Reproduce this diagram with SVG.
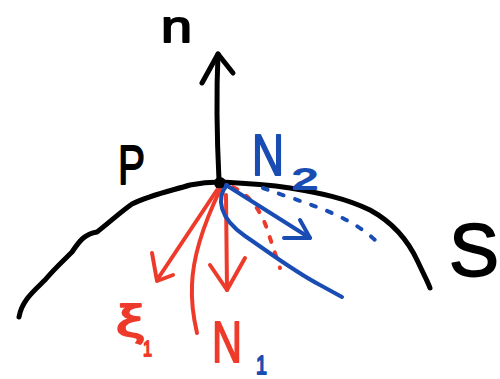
<svg xmlns="http://www.w3.org/2000/svg" width="500" height="379" viewBox="0 0 500 379">
<style>
.k{fill:none;stroke:#000;stroke-width:5;stroke-linecap:round;stroke-linejoin:round}
.r{fill:none;stroke:#ee3a2a;stroke-width:4;stroke-linecap:round;stroke-linejoin:round}
.b{fill:none;stroke:#1a4db3;stroke-width:4;stroke-linecap:round;stroke-linejoin:round}
text{font-family:"Liberation Sans",Arial,sans-serif;stroke-width:1.8;stroke-linejoin:round}
.tk{fill:#000;stroke:#000}.tr{fill:#ee3a2a;stroke:#ee3a2a}.tb{fill:#1a4db3;stroke:#1a4db3}
</style>
<rect width="500" height="379" fill="#fff"/>
<g id="surface-S">
<path class="k" d="M19,317 C22,300 35,290 45,280 C55,268 62,262 72,252 C80,240 85,234 97,232 C110,222 118,214 132,204 C150,195 170,191 190,185 C200,183 210,182 220,182 C240,183 262,184 290,188 C320,193 345,198 370,210 C392,222 408,240 418,262 C424,275 428,282 430,288"/>
<text class="tk" x="449" y="276" font-size="75" textLength="50" lengthAdjust="spacingAndGlyphs">S</text>
</g>
<g id="point-P">
<circle cx="220" cy="183" r="6" fill="#000"/>
<text class="tk" x="118" y="184" font-size="56" textLength="27" lengthAdjust="spacingAndGlyphs">P</text>
</g>
<g id="label-n">
<text class="tk" x="161" y="42" font-size="44" textLength="31" lengthAdjust="spacingAndGlyphs">n</text>
</g>
<g id="label-N2">
<text class="tb" x="252" y="175" font-size="58" textLength="32" lengthAdjust="spacingAndGlyphs">N</text>
<text class="tb" x="292" y="189" font-size="30" textLength="26" lengthAdjust="spacingAndGlyphs">2</text>
</g>
<g id="label-xi1">
<text class="tr" x="116" y="336" font-size="44" textLength="28" lengthAdjust="spacingAndGlyphs">ξ</text>
<text class="tr" x="143" y="356" font-size="22" textLength="9" lengthAdjust="spacingAndGlyphs">1</text>
</g>
<g id="label-N1">
<text class="tr" x="212" y="362" font-size="58" textLength="30" lengthAdjust="spacingAndGlyphs">N</text>
<text class="tb" x="256" y="374" font-size="26" textLength="11" lengthAdjust="spacingAndGlyphs">1</text>
</g>
<g id="connectors">
<path class="k" d="M219,180 C217,140 216,100 218,54"/>
<path class="k" d="M202,83 L218,54 L233,73"/>
<path class="r" d="M217,190 L157,280"/>
<path class="r" d="M152,253 L157,281 L173,275"/>
<path class="r" d="M220,190 C208,215 193,250 192,285 C191,305 194,320 197,333"/>
<path class="r" d="M226,195 L227,290" stroke-width="6"/>
<path class="r" d="M210,265 L227,290 L245,258" stroke-width="6"/>
<path class="r" d="M233,187 C250,195 262,212 268,232 L280,268" stroke-dasharray="5,11"/>
<path class="b" d="M226,185 L310,238"/>
<path class="b" d="M300,220 L310,238 L284,238"/>
<path class="b" d="M263,188 C300,202 345,212 375,240" stroke-dasharray="5,12"/>
<path class="b" d="M227,185 C216,198 219,218 245,236 C270,253 295,272 320,285 L342,297"/>
</g>
</svg>
